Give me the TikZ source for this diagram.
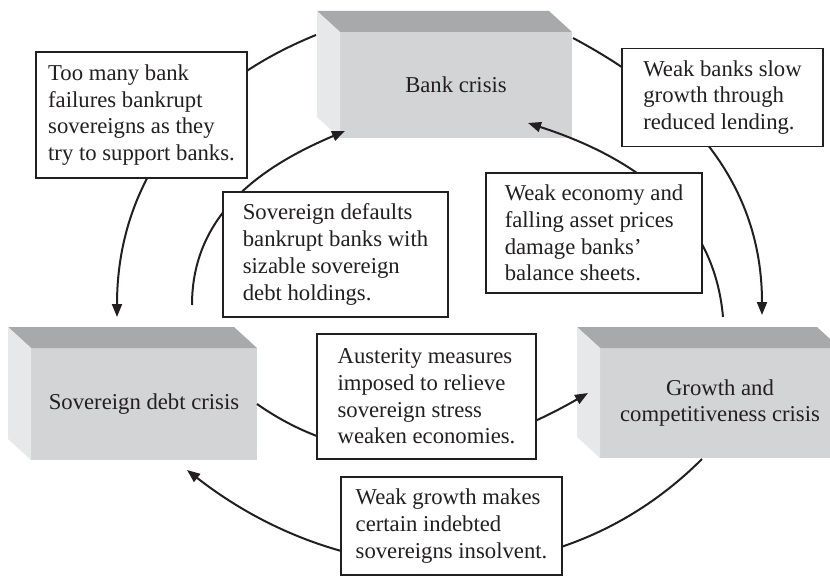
\documentclass[tikz,border=0pt]{standalone}
\usepackage{fontspec}
\setmainfont{Liberation Serif}
\usetikzlibrary{arrows.meta}

\definecolor{frontgray}{RGB}{211,212,214}
\definecolor{topgray}{RGB}{168,169,171}
\definecolor{sidegray}{RGB}{231,232,233}
\definecolor{ink}{RGB}{35,31,32}

\pgfdeclarelayer{cubes}
\pgfdeclarelayer{lines}
\pgfsetlayers{cubes,lines,main}

\begin{document}
\begin{tikzpicture}[x=0.5pt,y=0.5pt,
  font=\fontsize{11.35}{13.35}\selectfont, text=ink,
  crisis/.style={fill=frontgray, inner sep=0pt, outer sep=0pt, align=center},
  note/.style={draw=ink, fill=white, line width=0.75pt, align=left, inner sep=6pt, outer sep=0pt},
  link/.style={draw=ink, line width=1pt, -{Triangle[length=6.5pt,width=5pt]}}]
  \useasboundingbox (0,0) rectangle (830,-583);

  % the three crises
  \begin{pgfonlayer}{cubes}
    \node[crisis, minimum width=116pt, minimum height=53pt] (bank) at (456,-85) {Bank crisis};
    \node[crisis, minimum width=113pt, minimum height=56pt] (sov) at (144,-404) {Sovereign debt crisis};
    \node[crisis, minimum width=120pt, minimum height=55pt] (grow) at (720,-403) {Growth and\\ competitiveness crisis};
    \foreach \c in {bank,sov,grow}{
      \fill[topgray] (\c.north west) -- ++(-23,21) -- ([shift={(-23,21)}]\c.north east) -- (\c.north east) -- cycle;
      \fill[sidegray] (\c.north west) -- ++(-23,21) -- ([shift={(-23,21)}]\c.south west) -- (\c.south west) -- cycle;
    }
  \end{pgfonlayer}

  % explanations
  \node[note, minimum width=105.5pt, minimum height=63pt] (fail) at (141.5,-115) {Too many bank\\ failures bankrupt\\ sovereigns as they\\ try to support banks.};
  \node[note, minimum width=112.5pt, minimum height=62.5pt] (dflt) at (335.5,-254.5) {Sovereign defaults\\ bankrupt banks with\\ sizable sovereign\\ debt holdings.};
  \node[note, minimum width=108pt, minimum height=60pt] (econ) at (594,-233) {Weak economy and\\ falling asset prices\\ damage banks'\\ balance sheets.};
  \node[note, minimum width=100.5pt, minimum height=46.5pt] (lend) at (722.5,-97.5) {Weak banks slow\\ growth through\\ reduced lending.};
  \node[note, minimum width=109.5pt, minimum height=62.5pt] (aust) at (426.5,-396.5) {Austerity measures\\ imposed to relieve\\ sovereign stress\\ weaken economies.};
  \node[note, minimum width=110.5pt, minimum height=48pt] (insol) at (451.5,-526) {Weak growth makes\\ certain indebted\\ sovereigns insolvent.};

  % ends of the arrows
  \coordinate (sA) at (316,-35);   \coordinate (tA) at (117,-317);
  \coordinate (sB) at (192,-305);  \coordinate (tB) at (345,-131);
  \coordinate (sC) at (723,-317);  \coordinate (tC) at (528,-123);
  \coordinate (sD) at (573,-38);   \coordinate (tD) at (762,-315);
  \coordinate (tE) at (588,-393);
  \coordinate (sF) at (702,-459);  \coordinate (tF) at (187,-470);

  \begin{pgfonlayer}{lines}
    \draw[link] (sA) to[out=202,in=90] (tA);
    \draw[link] (sB) to[out=90,in=203] (tB);
    \draw[link] (sC) to[out=95,in=-18] (tC);
    \draw[link] (sD) to[out=-28,in=90] (tD);
    \draw[link] (sov.east) to[out=-35,in=210] (tE);
    \draw[link] (sF) to[out=225,in=-38] (tF);
  \end{pgfonlayer}
\end{tikzpicture}
\end{document}
